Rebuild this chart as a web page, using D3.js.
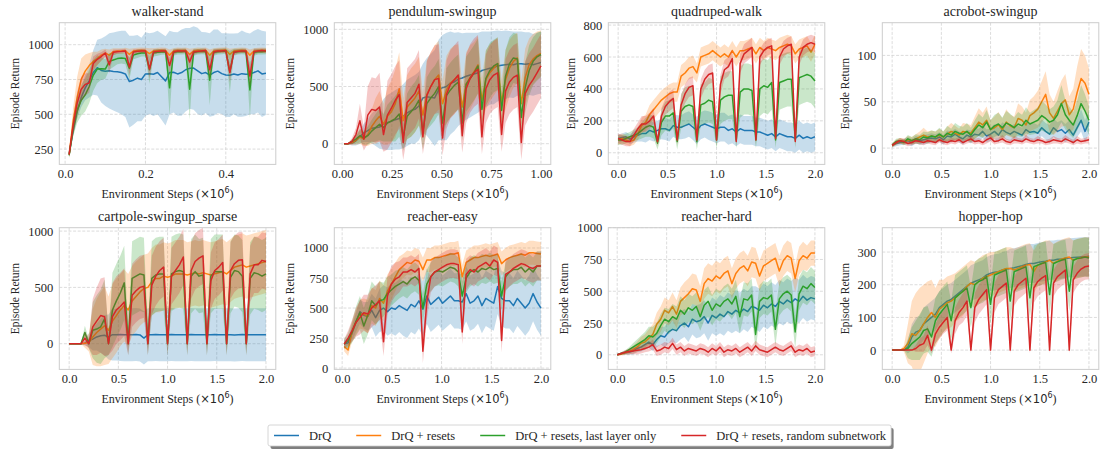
<!DOCTYPE html>
<html>
<head>
<meta charset="utf-8">
<script src="https://cdn.jsdelivr.net/npm/d3@7"></script>
<style>
  body { margin: 0; background: #fff; }
  text { font-family: "Liberation Serif", "Times New Roman", serif; fill: #262626; }
</style>
</head>
<body>
<svg id="chart" width="1102" height="450"></svg>
<script>
const SERIES = ['DrQ', 'DrQ + resets', 'DrQ + resets, last layer only', 'DrQ + resets, random subnetwork'];
const COLORS = ['#1f77b4', '#ff7f0e', '#2ca02c', '#d62728'];

// ---- walker-stand (steps in millions) ----
const walkerSteps = d3.range(50).map(i => 0.01 + i * 0.01);
const walkerDrq = [215,380,520,620,690,740,800,835,815,810, 812,808,805,800,790,735,745,760,750,790, 792,788,800,770,740,800,802,790,800,820, 830,832,812,792,800,782,800,810,792,782, 780,790,782,792,788,790,800,812,790,795];
const walkerDrqSd = [15,30,50,70,90,120,160,200,230,250, 270,280,290,300,310,330,320,310,300,300, 290,300,300,310,320,300,290,300,310,300, 290,300,310,300,290,300,310,300,290,300, 300,290,300,310,300,290,300,300,310,300];
const walkerResets = [210,450,620,750,810,850,880,900,925,940, 925,950,955,955,958,930,955,958,960,958, 935,955,958,960,958,925,955,960,958,960, 930,955,960,958,960,925,955,958,960,962, 930,955,958,960,958,925,955,958,960,958];
const walkerResetsSd = [20,100,150,150,120,90,70,50,40,30, 40,25,20,20,20,40,20,20,20,20, 40,20,20,20,20,40,20,20,20,20, 40,20,20,20,20,40,20,20,20,20, 40,20,20,20,20,40,20,20,20,20];
const walkerLast = [205,400,530,600,640,700,780,825,828,825, 880,890,900,905,900,830,925,935,940,940, 820,940,945,948,950,690,945,950,950,952, 680,945,950,952,950,745,945,950,952,955, 805,945,950,952,950,675,945,950,950,952];
const walkerLastSd = [20,60,90,110,120,120,110,100,80,70, 60,50,40,40,40,80,30,30,25,25, 100,25,25,20,20,200,25,20,20,20, 220,25,20,20,20,180,25,20,20,20, 150,25,20,20,20,200,25,20,20,20];
const walkerRandom = [210,420,580,680,715,725,865,895,915,940, 855,945,950,952,955,840,948,952,955,955, 825,948,952,955,955,850,948,955,955,955, 875,948,952,955,958,820,948,955,955,958, 800,945,952,955,955,775,950,955,958,955];
const walkerRandomSd = [20,60,80,90,80,70,50,40,30,25, 60,20,15,15,15,60,20,15,15,15, 70,20,15,15,15,60,20,15,15,15, 60,20,15,15,15,70,20,15,15,15, 70,20,15,15,15,80,20,15,15,15];

// ---- pendulum-swingup ----
const pendSteps = d3.range(51).map(i => 0.01 + i * 0.0198);
const pendDrq = [0,0,5,25,60,95,115,135,140,145, 170,185,195,210,220,240,270,290,300,330, 400,410,405,400,470,490,500,530,540,565, 575,590,600,610,620,640,650,660,665,680, 685,690,695,690,700,700,695,700,690,700, 710];
const pendDrqSd = [0,5,20,40,60,80,100,130,160,190, 220,240,250,260,270,280,290,290,300,300, 300,340,380,420,440,460,470,450,430,410, 390,380,370,360,350,340,330,320,320,310, 300,300,290,290,280,280,280,275,270,270, 270];
const pendResets = [0,0,10,30,60,40,80,150,200,240, 170,240,280,350,480,200,320,360,400,460, 250,430,500,560,600,350,470,530,560,590, 320,520,580,630,690,380,560,620,660,700, 360,560,660,720,750,350,580,690,740,770, 790];
const pendResetsSd = [0,5,20,40,60,60,100,150,200,220, 180,250,270,300,320,200,280,300,300,300, 200,300,300,300,300,200,300,300,300,280, 200,280,280,260,250,200,260,250,240,230, 200,260,250,230,220,200,250,230,220,210, 200];
const pendLast = [0,0,20,40,70,50,70,110,140,170, 140,180,200,220,260,60,240,280,320,380, 100,350,400,440,500,180,420,470,510,540, 180,520,570,620,680,300,570,640,680,700, 290,590,700,750,740,230,490,640,720,760, 780];
const pendLastSd = [0,5,20,40,60,60,80,100,120,140, 120,160,180,200,200,120,200,220,220,220, 150,230,240,240,240,150,240,240,240,240, 150,240,240,240,240,150,240,240,230,230, 150,230,230,220,220,150,220,220,210,210, 200];
const pendRandom = [0,0,20,80,200,40,250,300,290,320, 80,250,310,380,430,10,360,400,440,520, 60,420,500,560,570,50,430,520,560,600, 70,480,570,620,650,60,480,560,600,620, 80,460,540,580,600,10,440,510,560,620, 680];
const pendRandomSd = [0,5,30,60,150,100,250,280,280,300, 150,300,300,300,300,150,300,300,300,300, 150,300,300,300,300,150,300,300,300,300, 150,300,300,300,300,150,300,300,300,300, 150,280,280,280,280,150,280,280,280,280, 280];

// ---- 2M-step tasks share one grid ----
const longSteps = d3.range(51).map(i => i * 0.04);

// quadruped-walk
const quadDrq = [90,95,100,85,100,110,120,120,140,130, 140,150,150,140,170,160,160,170,180,160, 140,170,180,170,160,150,160,160,140,150, 130,150,140,140,140,130,130,120,110,120, 100,120,110,100,100,90,110,90,100,90, 100];
const quadDrqSd = [25,25,30,30,35,40,50,55,60,60, 60,65,70,70,70,75,75,80,80,80, 85,85,85,90,90,90,90,90,90,90, 90,90,90,90,90,90,90,90,90,90, 90,90,90,90,90,90,90,90,90,90, 90];
const quadResets = [80,90,80,70,80,120,170,190,240,270, 300,330,350,370,380,380,480,500,530,540, 500,600,610,620,640,620,600,620,600,640, 600,640,640,650,660,620,660,640,660,650, 640,660,670,680,670,620,650,660,670,630, 680];
const quadResetsSd = [30,30,30,30,30,40,50,50,60,60, 60,60,60,60,60,60,70,70,70,70, 60,60,60,60,60,60,60,60,60,60, 60,60,60,60,60,60,60,60,60,60, 60,60,60,60,60,60,60,60,60,60, 60];
const quadLast = [80,80,90,100,110,120,140,160,170,160, 60,190,230,230,250,70,260,290,300,290, 70,300,310,330,320,80,330,350,360,360, 80,380,400,400,390,80,400,420,410,440, 80,440,450,460,460,80,470,480,490,480, 450];
const quadLastSd = [30,30,30,30,35,40,50,60,70,70, 40,80,90,100,100,50,110,120,120,120, 50,130,130,140,140,50,150,150,150,150, 50,160,160,160,160,50,170,170,170,170, 50,170,170,170,170,50,170,170,170,170, 170];
const quadRandom = [90,80,70,70,110,150,180,180,200,230, 70,230,290,320,340,80,300,370,410,420, 80,400,460,490,500,80,430,520,540,590, 70,560,620,640,660,80,600,640,660,670, 90,600,650,670,680,70,600,660,680,690, 680];
const quadRandomSd = [30,30,30,30,40,40,50,50,50,50, 30,50,50,60,60,30,60,60,60,60, 30,60,60,60,60,30,60,60,60,60, 30,60,60,60,60,30,50,50,50,50, 30,50,50,50,50,30,50,50,50,50, 50];

// acrobot-swingup
const acroDrq = [3,5,6,7,8,6,9,8,9,10, 11,10,12,9,13,12,15,12,10,14, 12,15,14,18,13,15,18,14,20,17, 15,18,16,14,20,17,18,16,22,18, 15,22,18,20,16,20,14,22,30,18, 28];
const acroDrqSd = [2,3,3,3,4,4,4,4,5,5, 5,5,5,5,6,6,6,6,6,6, 7,7,7,7,7,7,8,8,8,8, 8,8,8,8,9,9,9,9,9,9, 10,10,10,10,10,10,10,10,12,12, 12];
const acroResets = [3,6,8,7,9,8,10,12,14,12, 13,12,14,12,15,18,16,14,18,17, 16,22,28,25,30,20,22,25,20,28, 24,22,32,30,25,35,38,42,50,58, 38,32,40,48,52,36,42,60,75,70, 58];
const acroResetsSd = [2,3,3,3,4,4,5,6,8,6, 6,6,7,6,8,9,8,7,9,9, 9,12,15,13,15,10,12,14,12,14, 12,12,16,15,13,17,18,20,22,25, 20,18,22,25,28,20,22,28,32,30, 28];
const acroLast = [3,7,8,6,10,8,10,9,12,11, 13,12,15,12,16,14,18,16,15,18, 14,20,25,22,28,20,24,26,22,27, 25,22,26,24,30,26,28,30,35,32, 28,30,36,48,36,30,25,35,48,40, 30];
const acroLastSd = [2,3,3,3,4,4,5,5,6,6, 6,6,7,6,8,7,9,8,8,9, 8,10,12,11,13,10,12,12,11,13, 12,11,13,12,14,12,13,14,16,15, 14,15,16,20,16,15,14,16,20,18, 15];
const acroRandom = [3,6,8,7,5,6,8,7,6,8, 7,6,9,7,6,8,7,9,6,8, 10,7,8,6,9,11,7,8,10,7, 6,9,8,7,10,8,7,9,8,6, 7,9,8,7,10,8,6,9,7,8, 9];
const acroRandomSd = [2,2,3,3,3,3,3,3,3,3, 3,3,3,3,3,3,3,3,3,3, 4,3,3,3,4,4,3,3,4,3, 3,4,3,3,4,3,3,4,3,3, 3,4,3,3,4,3,3,4,3,3, 4];

// cartpole-swingup_sparse
const cartDrq = [0,0,0,0,5,30,40,60,70,75, 60,80,80,82,80,80,80,82,78,50, 80,80,82,80,80,80,82,80,80,80, 80,82,80,80,80,80,80,82,80,80, 80,80,78,80,82,80,80,80,80,80, 80];
const cartDrqSd = [0,0,0,0,20,60,100,120,150,180, 200,230,230,235,235,235,235,235,235,235, 235,235,235,235,235,235,235,235,235,235, 235,235,235,235,235,235,235,235,235,235, 235,235,235,235,235,235,235,235,235,235, 235];
const cartResets = [0,0,0,0,5,10,60,100,130,160, 120,200,250,300,340,300,380,420,460,490, 500,550,580,580,600,590,600,620,620,620, 610,620,630,620,630,620,610,620,630,640, 620,650,680,690,700,680,690,700,710,720, 730];
const cartResetsSd = [0,0,0,0,40,80,250,300,330,350, 300,330,330,320,320,320,310,310,300,300, 300,300,300,300,300,300,300,300,300,300, 290,290,290,290,290,290,290,290,290,290, 280,280,280,280,280,280,280,280,280,280, 280];
const cartLast = [0,0,0,0,100,0,120,130,150,220, 0,300,380,450,540,0,580,600,620,610, 0,580,610,620,620,0,620,640,650,640, 0,600,640,600,610,0,600,640,640,640, 0,590,650,640,600,0,580,630,620,600, 620];
const cartLastSd = [0,0,0,0,60,40,250,300,330,350, 100,330,330,330,330,100,330,330,330,330, 100,330,330,330,330,100,330,330,330,330, 100,330,330,330,330,100,330,330,330,330, 100,320,320,320,320,100,320,320,320,320, 320];
const cartRandom = [0,0,0,0,50,0,150,200,250,240, 0,240,300,330,370,0,430,470,500,510, 0,520,600,650,680,0,600,650,700,770, 0,650,730,760,780,0,560,650,680,720, 0,650,710,740,745,0,620,700,700,740, 730];
const cartRandomSd = [0,0,0,0,60,40,250,300,330,350, 100,300,300,300,300,100,280,280,280,280, 100,260,260,260,260,100,250,250,250,250, 100,250,250,250,250,100,250,250,250,250, 100,250,250,250,250,100,250,250,250,250, 250];

// reacher-easy (first evaluation at 0.02M)
const easySteps = d3.range(51).map(i => 0.02 + i * 0.0396);
const easyDrq = [200,210,290,380,470,440,430,480,420,480, 500,470,500,490,520,500,480,530,510,560, 490,600,530,560,590,540,570,600,560,560, 550,620,540,560,600,520,580,560,540,680, 580,560,560,520,580,540,500,540,620,550, 500];
const easyDrqSd = [30,40,60,80,100,110,120,140,160,180, 190,200,210,220,220,230,230,230,230,230, 230,230,230,230,230,230,230,230,230,230, 230,230,230,230,230,230,230,230,230,230, 230,230,230,230,230,230,230,230,230,230, 230];
const easyResets = [180,150,300,380,450,450,430,520,500,580, 540,640,700,760,820,850,880,870,900,890, 820,900,900,920,920,930,940,950,950,960, 760,880,900,920,920,930,940,930,940,950, 870,900,920,930,940,950,940,960,960,955, 950];
const easyResetsSd = [40,50,80,100,120,130,140,150,150,150, 150,140,130,120,110,100,100,100,100,100, 100,100,100,100,100,100,100,100,100,100, 100,100,100,100,100,100,100,100,100,100, 100,100,100,100,100,100,100,100,100,100, 100];
const easyLast = [200,230,300,390,460,350,440,560,520,560, 570,620,650,680,700,720,700,740,760,730, 500,700,760,800,810,800,820,840,830,800, 600,750,800,820,800,830,820,840,820,830, 600,760,800,820,820,840,800,830,800,850, 850];
const easyLastSd = [40,60,90,120,140,150,160,160,160,160, 140,140,130,130,120,120,120,120,120,120, 120,120,120,120,120,120,120,120,120,120, 120,120,120,120,120,120,120,120,120,120, 120,120,120,120,120,120,120,120,120,120, 120];
const easyRandom = [200,250,310,380,420,460,450,500,530,560, 220,600,700,740,760,800,800,820,800,830, 140,550,760,800,820,840,860,870,870,860, 300,780,820,800,840,860,880,850,900,880, 230,780,800,830,850,870,860,840,830,850, 850];
const easyRandomSd = [40,60,90,120,140,150,160,160,160,160, 120,160,150,140,130,120,120,120,120,120, 100,150,130,120,120,120,120,120,120,120, 100,130,120,120,120,120,120,120,120,120, 100,130,120,120,120,120,120,120,120,120, 120];

// reacher-hard
const hardDrq = [0,10,15,20,30,50,60,80,100,80, 120,150,140,180,200,190,230,250,220,280, 260,270,300,250,310,290,320,300,340,320, 350,330,360,340,380,370,350,390,370,400, 380,420,400,430,410,440,420,460,430,450, 440];
const hardDrqSd = [5,10,15,20,25,30,35,40,45,50, 60,70,80,90,100,100,110,110,120,120, 130,130,130,140,140,140,150,150,150,150, 160,160,160,160,160,170,170,170,170,170, 170,170,170,170,170,170,170,170,170,170, 170];
const hardResets = [0,5,15,25,40,60,90,100,130,160, 240,280,350,330,380,320,420,450,480,520, 510,420,560,600,580,620,600,640,660,560, 640,680,700,660,730,720,620,700,720,740, 760,660,740,780,760,600,740,780,760,800, 800];
const hardResetsSd = [5,10,15,20,30,40,50,60,70,80, 90,100,100,100,110,110,110,120,120,120, 120,120,120,120,120,120,120,120,120,120, 120,120,120,120,120,120,120,120,120,120, 120,120,120,120,120,110,110,110,100,100, 100];
const hardLast = [0,10,20,40,60,80,100,120,150,140, 170,230,280,260,300,280,350,320,370,350, 380,300,390,420,350,400,380,420,440,400, 460,300,440,430,470,160,420,450,440,470, 200,440,480,500,470,180,480,540,520,560, 530];
const hardLastSd = [5,10,15,20,30,40,50,60,70,80, 80,90,90,100,100,100,110,110,110,110, 110,110,120,120,120,120,120,120,120,120, 130,130,130,130,130,130,130,130,130,130, 130,130,130,130,130,130,130,130,130,130, 130];
const hardRandom = [0,10,20,25,30,35,40,50,60,80, 30,40,60,50,90,40,60,30,50,40, 30,50,40,20,50,30,60,20,40,30, 50,20,40,60,30,70,40,30,20,40, 60,40,30,50,70,20,40,30,50,20, 30];
const hardRandomSd = [5,10,15,20,25,30,30,30,35,40, 40,40,40,40,45,40,40,40,40,40, 40,40,40,40,40,40,40,40,40,40, 40,40,40,40,40,40,40,40,40,40, 40,40,40,40,40,40,40,40,40,40, 40];

// hopper-hop
const hopDrq = [0,0,0,0,10,40,55,60,80,90, 100,110,130,140,150,155,165,175,185,195, 205,210,215,220,230,235,238,240,245,248, 250,252,255,258,262,265,265,268,270,272, 275,275,278,278,280,282,283,284,285,285, 287];
const hopDrqSd = [0,0,0,0,20,40,45,45,50,50, 50,50,50,50,50,50,50,50,50,50, 55,55,55,55,55,55,55,55,55,55, 60,60,60,60,60,60,60,60,60,60, 60,60,60,60,60,60,60,60,60,60, 60];
const hopResets = [0,0,0,5,20,50,45,60,80,100, 115,100,125,135,145,150,160,170,180,195, 205,200,210,220,225,230,235,240,245,250, 250,245,250,255,260,262,240,260,265,270, 275,265,272,278,282,285,275,280,283,285, 285];
const hopResetsSd = [0,0,0,10,60,100,130,130,120,110, 100,90,90,80,80,80,75,75,75,70, 70,70,70,70,70,70,65,65,65,65, 65,65,65,65,65,65,65,65,65,65, 60,60,60,60,60,60,60,60,60,60, 60];
const hopLast = [0,0,0,0,5,20,30,40,60,65, 40,90,110,125,140,90,160,170,180,190, 130,200,210,215,225,140,230,235,240,245, 150,240,245,250,255,160,255,260,265,268, 170,265,270,275,278,180,275,280,282,285, 282];
const hopLastSd = [0,0,0,0,30,50,60,70,70,70, 60,70,70,70,70,60,70,70,70,70, 60,70,70,70,70,60,70,70,70,70, 60,65,65,65,65,60,65,65,65,65, 60,60,60,60,60,60,60,60,60,60, 60];
const hopRandom = [0,0,0,0,0,0,5,15,20,45, 0,50,70,85,100,0,90,115,130,150, 0,130,155,170,185,0,160,185,195,205, 0,180,200,210,220,0,190,210,220,228, 0,205,225,235,245,0,215,235,248,255, 257];
const hopRandomSd = [0,0,0,0,0,0,10,20,25,30, 10,30,35,35,40,10,40,40,45,45, 10,45,45,45,45,10,45,45,45,45, 10,45,45,45,45,10,45,45,45,45, 10,40,40,40,40,10,40,40,40,40, 40];

const panels = [
  { title: 'walker-stand', steps: walkerSteps,
    means: [walkerDrq, walkerResets, walkerLast, walkerRandom],
    sds: [walkerDrqSd, walkerResetsSd, walkerLastSd, walkerRandomSd],
    xDomain: [-0.0145, 0.5245], yDomain: [140, 1158], xTicks: [0, 0.2, 0.4], xFmt: '.1f', yTicks: [250, 500, 750, 1000] },
  { title: 'pendulum-swingup', steps: pendSteps,
    means: [pendDrq, pendResets, pendLast, pendRandom],
    sds: [pendDrqSd, pendResetsSd, pendLastSd, pendRandomSd],
    xDomain: [-0.0395, 1.0495], yDomain: [-181, 1058], xTicks: [0, 0.25, 0.5, 0.75, 1.0], xFmt: '.2f', yTicks: [0, 500, 1000] },
  { title: 'quadruped-walk', steps: longSteps,
    means: [quadDrq, quadResets, quadLast, quadRandom],
    sds: [quadDrqSd, quadResetsSd, quadLastSd, quadRandomSd],
    xDomain: [-0.1, 2.1], yDomain: [-73, 815], xTicks: [0, 0.5, 1, 1.5, 2], xFmt: '.1f', yTicks: [0, 200, 400, 600, 800] },
  { title: 'acrobot-swingup', steps: longSteps,
    means: [acroDrq, acroResets, acroLast, acroRandom],
    sds: [acroDrqSd, acroResetsSd, acroLastSd, acroRandomSd],
    xDomain: [-0.1, 2.1], yDomain: [-17.6, 135.3], xTicks: [0, 0.5, 1, 1.5, 2], xFmt: '.1f', yTicks: [0, 50, 100] },
  { title: 'cartpole-swingup_sparse', steps: longSteps,
    means: [cartDrq, cartResets, cartLast, cartRandom],
    sds: [cartDrqSd, cartResetsSd, cartLastSd, cartRandomSd],
    xDomain: [-0.1, 2.1], yDomain: [-228, 1030], xTicks: [0, 0.5, 1, 1.5, 2], xFmt: '.1f', yTicks: [0, 500, 1000] },
  { title: 'reacher-easy', steps: easySteps,
    means: [easyDrq, easyResets, easyLast, easyRandom],
    sds: [easyDrqSd, easyResetsSd, easyLastSd, easyRandomSd],
    xDomain: [-0.079, 2.099], yDomain: [-11, 1169], xTicks: [0, 0.5, 1, 1.5, 2], xFmt: '.1f', yTicks: [0, 250, 500, 750, 1000] },
  { title: 'reacher-hard', steps: longSteps,
    means: [hardDrq, hardResets, hardLast, hardRandom],
    sds: [hardDrqSd, hardResetsSd, hardLastSd, hardRandomSd],
    xDomain: [-0.09, 2.1], yDomain: [-115, 1000], xTicks: [0, 0.5, 1, 1.5, 2], xFmt: '.1f', yTicks: [0, 250, 500, 750, 1000] },
  { title: 'hopper-hop', steps: longSteps,
    means: [hopDrq, hopResets, hopLast, hopRandom],
    sds: [hopDrqSd, hopResetsSd, hopLastSd, hopRandomSd],
    xDomain: [-0.1, 2.1], yDomain: [-59, 374.5], xTicks: [0, 0.5, 1, 1.5, 2], xFmt: '.1f', yTicks: [0, 100, 200, 300] }
];

const COL_X = [59.3, 334.3, 608.3, 882.3];
const ROW_Y = [22.7, 227.7];
const W = 216.5, H = 141.7;
const GRID = '#d3d3d3';

const svg = d3.select('#chart');

panels.forEach((p, k) => {
  const left = COL_X[k % 4], top = ROW_Y[Math.floor(k / 4)];
  const g = svg.append('g').attr('transform', `translate(${left},${top})`);
  const x = d3.scaleLinear().domain(p.xDomain).range([0, W]);
  const y = d3.scaleLinear().domain(p.yDomain).range([H, 0]);

  // dashed grid
  g.append('g').selectAll('line').data(p.xTicks).join('line')
    .attr('x1', d => x(d)).attr('x2', d => x(d)).attr('y1', 0).attr('y2', H)
    .attr('stroke', GRID).attr('stroke-width', 0.8).attr('stroke-dasharray', '3,1.6');
  g.append('g').selectAll('line').data(p.yTicks).join('line')
    .attr('x1', 0).attr('x2', W).attr('y1', d => y(d)).attr('y2', d => y(d))
    .attr('stroke', GRID).attr('stroke-width', 0.8).attr('stroke-dasharray', '3,1.6');

  const clipId = 'clip' + k;
  g.append('clipPath').attr('id', clipId).append('rect').attr('width', W).attr('height', H);
  const plot = g.append('g').attr('clip-path', `url(#${clipId})`);

  p.means.forEach((m, s) => {
    const sd = p.sds[s];
    if (m.length !== p.steps.length || sd.length !== p.steps.length) {
      throw new Error(`${p.title} series ${s}: ${m.length}/${sd.length} vs ${p.steps.length}`);
    }
    const rows = p.steps.map((t, i) => ({ t, v: m[i], e: sd[i] }));
    plot.append('path').datum(rows)
      .attr('fill', COLORS[s]).attr('fill-opacity', 0.25)
      .attr('d', d3.area().x(d => x(d.t)).y0(d => y(d.v - d.e)).y1(d => y(d.v + d.e)));
    plot.append('path').datum(rows)
      .attr('fill', 'none').attr('stroke', COLORS[s]).attr('stroke-width', 1.5)
      .attr('stroke-linejoin', 'round')
      .attr('d', d3.line().x(d => x(d.t)).y(d => y(d.v)));
  });

  g.append('rect').attr('width', W).attr('height', H)
    .attr('fill', 'none').attr('stroke', '#cccccc').attr('stroke-width', 1);

  // axes (labels only)
  const xa = g.append('g').attr('transform', `translate(0,${H})`)
    .call(d3.axisBottom(x).tickValues(p.xTicks).tickFormat(d3.format(p.xFmt)).tickSize(0).tickPadding(5));
  const ya = g.append('g')
    .call(d3.axisLeft(y).tickValues(p.yTicks).tickFormat(d3.format('d')).tickSize(0).tickPadding(6));
  [xa, ya].forEach(a => {
    a.select('.domain').remove();
    a.selectAll('text').style('font-family', '"Liberation Serif", serif').style('font-size', '12.5px').attr('fill', '#262626');
  });

  g.append('text').attr('x', W / 2).attr('y', -6.8).attr('text-anchor', 'middle')
    .style('font-size', '14px').text(p.title);

  const xl = g.append('text').attr('x', W / 2).attr('y', H + 33.5).attr('text-anchor', 'middle')
    .style('font-size', '12px');
  xl.append('tspan').text('Environment Steps (');
  xl.append('tspan').style('font-family', '"DejaVu Sans", sans-serif').style('font-size', '11.5px').text('\u00d710');
  xl.append('tspan').style('font-family', '"DejaVu Sans", sans-serif').style('font-size', '8px').attr('dy', -5).text('6');
  xl.append('tspan').attr('dy', 5).text(')');

  const tb = ya.node().getBBox();
  g.append('text').attr('transform', `translate(${tb.x - 9},${H / 2}) rotate(-90)`)
    .attr('text-anchor', 'middle').style('font-size', '11.5px').text('Episode Return');
});

// legend
const leg = svg.append('g');
const LEG_Y = 435.5;
let cx = 274;
const items = [];
SERIES.forEach((name, s) => {
  const it = leg.append('g');
  it.append('line').attr('x1', cx).attr('x2', cx + 25).attr('y1', LEG_Y).attr('y2', LEG_Y)
    .attr('stroke', COLORS[s]).attr('stroke-width', 1.5);
  const t = it.append('text').attr('x', cx + 35).attr('y', LEG_Y + 4.3).style('font-size', '12.5px').text(name);
  cx = cx + 35 + t.node().getComputedTextLength() + 25;
  items.push(it);
});
const boxX = 268, boxW = cx - 25 + 5 - boxX;
leg.insert('rect', ':first-child').attr('x', boxX).attr('y', 425).attr('width', boxW).attr('height', 21)
  .attr('rx', 2).attr('fill', '#fff').attr('stroke', '#cccccc').attr('stroke-width', 0.8);
leg.insert('rect', ':first-child').attr('x', boxX + 2.5).attr('y', 428).attr('width', boxW).attr('height', 21)
  .attr('rx', 2).attr('fill', '#000').attr('fill-opacity', 0.5);
</script>
</body>
</html>
